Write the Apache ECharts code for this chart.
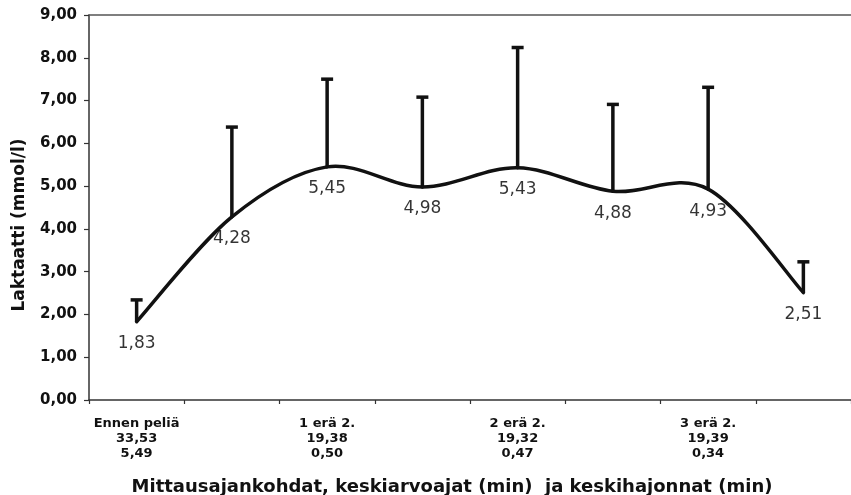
<!DOCTYPE html>
<html>
<head>
<meta charset="utf-8">
<script src="https://cdn.jsdelivr.net/npm/echarts@6/dist/echarts.min.js"></script>
<style>
  html, body { margin: 0; padding: 0; background: #fff; }
  #chart { width: 851px; height: 495px; }
</style>
</head>
<body>
<div id="chart"></div>
<script>
// Measurement points during the game
const categories = ['Ennen peliä', '1 erä 1.', '1 erä 2.', '2 erä 1.', '2 erä 2.', '3 erä 1.', '3 erä 2.', 'Pelin jälkeen'];
const shownLabels = ['Ennen peliä', '', '1 erä 2.', '', '2 erä 2.', '', '3 erä 2.', ''];
// Mean time (min) and standard deviation (min) of each measurement point
const meanTimes = ['33,53', '', '19,38', '', '19,32', '', '19,39', ''];
const sdTimes = ['5,49', '', '0,50', '', '0,47', '', '0,34', ''];
// Lactate mean (mmol/l) and mean + SD
const lactate = [1.83, 4.28, 5.45, 4.98, 5.43, 4.88, 4.93, 2.51];
const lactateUpper = [2.34, 6.38, 7.50, 7.08, 8.24, 6.91, 7.31, 3.23];
// Value axis
const yMin = 0, yMax = 9, yStep = 1;

const comma = v => Number(v).toFixed(2).replace('.', ',');
const FONT = "'DejaVu Sans', Verdana, sans-serif";
const INK = '#111';
const TEXT = '#111';

const chart = echarts.init(document.getElementById('chart'), null, { renderer: 'canvas' });

// Smoothed curve through the means: one cubic segment per pair of points,
// Catmull-Rom style tangents (neighbour difference / 6).
function renderCurveSegment(params, api) {
  const i = api.value(0);
  const last = lactate.length - 1;
  const pt = j => {
    const k = Math.max(0, Math.min(last, j));
    return api.coord([k, lactate[k]]);
  };
  const p0 = pt(i - 1), p1 = pt(i), p2 = pt(i + 1), p3 = pt(i + 2);
  return {
    type: 'bezierCurve',
    shape: {
      x1: p1[0], y1: p1[1],
      x2: p2[0], y2: p2[1],
      cpx1: p1[0] + (p2[0] - p0[0]) / 6, cpy1: p1[1] + (p2[1] - p0[1]) / 6,
      cpx2: p2[0] - (p3[0] - p1[0]) / 6, cpy2: p2[1] - (p3[1] - p1[1]) / 6
    },
    style: { stroke: INK, lineWidth: 3.5, fill: null, lineCap: 'round' }
  };
}

// Standard deviation whisker above each mean
function renderWhisker(params, api) {
  const x = api.value(0);
  const lo = api.coord([x, api.value(1)]);
  const hi = api.coord([x, api.value(2)]);
  const half = 6;
  const style = { stroke: INK, lineWidth: 3.5 };
  return {
    type: 'group',
    children: [
      { type: 'line', shape: { x1: lo[0], y1: lo[1], x2: hi[0], y2: hi[1] }, style },
      { type: 'line', shape: { x1: hi[0] - half, y1: hi[1], x2: hi[0] + half, y2: hi[1] }, style }
    ]
  };
}

chart.setOption({
  animation: false,
  backgroundColor: '#fff',
  grid: { left: 89, top: 15, width: 772, height: 385, containLabel: false },
  xAxis: [{
    type: 'category',
    data: categories,
    boundaryGap: true,
    axisLine: { show: true, lineStyle: { color: '#333', width: 1.5 } },
    axisTick: { show: true, length: 4, lineStyle: { color: '#333', width: 1.2 } },
    axisLabel: {
      interval: 0,
      margin: 16,
      color: TEXT,
      fontFamily: FONT,
      fontWeight: 'bold',
      fontSize: 13,
      lineHeight: 15,
      formatter: (v, i) => shownLabels[i] ? shownLabels[i] + '\n' + meanTimes[i] + '\n' + sdTimes[i] : ''
    },
    splitLine: { show: false }
  }, {
    type: 'category',
    data: categories,
    position: 'top',
    axisLine: { show: true, lineStyle: { color: '#555', width: 1.5 } },
    axisTick: { show: false },
    axisLabel: { show: false }
  }],
  yAxis: {
    type: 'value',
    min: yMin,
    max: yMax,
    interval: yStep,
    axisLine: { show: true, lineStyle: { color: '#333', width: 1.5 } },
    axisTick: { show: true, length: 5, lineStyle: { color: '#333', width: 1.2 } },
    axisLabel: {
      margin: 12,
      color: TEXT,
      fontFamily: FONT,
      fontWeight: 'bold',
      fontSize: 15,
      formatter: comma
    },
    splitLine: { show: false }
  },
  graphic: [{
    type: 'text',
    x: 20,
    y: 225,
    rotation: Math.PI / 2,
    style: {
      text: 'Laktaatti (mmol/l)',
      fill: TEXT,
      font: 'bold 17px ' + FONT,
      textAlign: 'center',
      textVerticalAlign: 'middle'
    }
  }, {
    type: 'text',
    x: 452,
    y: 487,
    style: {
      text: 'Mittausajankohdat, keskiarvoajat (min)  ja keskihajonnat (min)',
      fill: TEXT,
      font: 'bold 18px ' + FONT,
      textAlign: 'center',
      textVerticalAlign: 'middle'
    }
  }],
  series: [{
    type: 'custom',
    name: 'keskihajonta',
    data: lactate.map((v, i) => [i, v, lactateUpper[i]]),
    encode: { x: 0, y: [1, 2] },
    renderItem: renderWhisker,
    z: 2
  }, {
    type: 'custom',
    name: 'Laktaatti',
    data: lactate.slice(0, -1).map((v, i) => [i, v, lactate[i + 1]]),
    encode: { x: 0, y: [1, 2] },
    renderItem: renderCurveSegment,
    z: 3
  }, {
    type: 'scatter',
    name: 'Laktaatti, arvot',
    data: lactate,
    symbolSize: 1,
    itemStyle: { color: 'rgba(0,0,0,0)' },
    label: {
      show: true,
      position: 'bottom',
      distance: 13,
      color: '#000',
      fontFamily: FONT,
      fontSize: 17,
      formatter: p => comma(p.value)
    },
    z: 4
  }]
});
</script>
</body>
</html>
